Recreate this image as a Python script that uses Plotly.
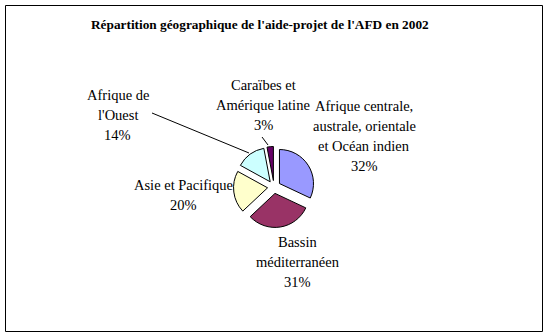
import plotly.graph_objects as go

W, H = 548, 336

categories = [
    "Afrique centrale, australe, orientale et Océan indien",
    "Bassin méditerranéen",
    "Asie et Pacifique",
    "Afrique de l'Ouest",
    "Caraïbes et Amérique latine",
]
shares = [32, 31, 20, 14, 3]
label_lines = [
    ["Afrique centrale,", "australe, orientale", "et Océan indien", "32%"],
    ["Bassin", "méditerranéen", "31%"],
    ["Asie et Pacifique", "20%"],
    ["Afrique de", "l'Ouest", "14%"],
    ["Caraïbes et", "Amérique latine", "3%"],
]
colors = ["#9999FF", "#993366", "#FFFFCC", "#CCFFFF", "#660066"]
title = "Répartition géographique de l'aide-projet de l'AFD en 2002"

# label anchor (center x, first line y) in pixels
label_pos = [(364, 106), (298, 242), (183, 185), (118, 95), (263, 85)]
line_step = 20

def px(x):
    return x / W

def py(y):
    return 1 - y / H

cx, cy, half = 274, 187, 40.5
fig = go.Figure(go.Pie(
    labels=categories,
    values=shares,
    sort=False,
    direction="clockwise",
    rotation=0,
    pull=[0.19] * len(shares),
    marker=dict(colors=colors, line=dict(color="black", width=1)),
    textinfo="none",
    hoverinfo="label+percent",
    showlegend=False,
    domain=dict(x=[px(cx - half), px(cx + half)], y=[py(cy + half), py(cy - half)]),
))

serif = "Liberation Serif, Times New Roman, Times, serif"
annotations = [dict(text="<b>" + title + "</b>", x=px(260), y=py(25), xref="paper", yref="paper",
                    showarrow=False, font=dict(family=serif, size=13.3, color="black"),
                    xanchor="center", yanchor="middle")]
for lines, (lx, ly) in zip(label_lines, label_pos):
    for i, t in enumerate(lines):
        annotations.append(dict(text=t, x=px(lx), y=py(ly + i * line_step), xref="paper", yref="paper",
                                showarrow=False, font=dict(family=serif, size=14.5, color="black"),
                                xanchor="center", yanchor="middle"))

shapes = [
    dict(type="rect", xref="paper", yref="paper", x0=px(5.5), x1=px(542.5), y0=py(331.5), y1=py(5.5),
         line=dict(color="black", width=1)),
    dict(type="line", xref="paper", yref="paper", x0=px(152), y0=py(113), x1=px(249), y1=py(153),
         line=dict(color="black", width=1)),
    dict(type="line", xref="paper", yref="paper", x0=px(262), y0=py(137), x1=px(268), y1=py(145),
         line=dict(color="black", width=1)),
]

fig.update_layout(
    width=W, height=H,
    margin=dict(l=0, r=0, t=0, b=0),
    paper_bgcolor="white",
    plot_bgcolor="white",
    annotations=annotations,
    shapes=shapes,
)
fig.write_html("out.html")
